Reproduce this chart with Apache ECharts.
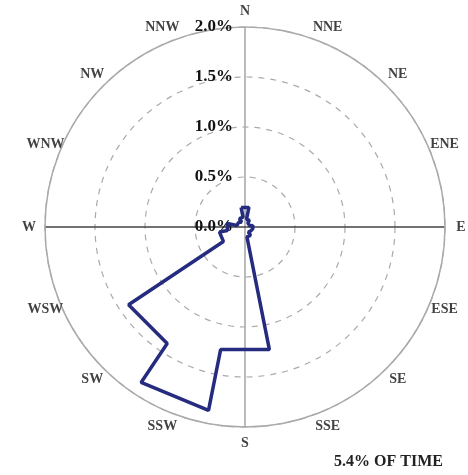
<!DOCTYPE html>
<html>
<head>
<meta charset="utf-8">
<script src="https://cdn.jsdelivr.net/npm/echarts@6/dist/echarts.min.js"></script>
<style>html,body{margin:0;padding:0;background:#fff;}#c{width:468px;height:475px;}</style>
</head>
<body>
<div id="c"></div>
<script>
const directions = ['N','NNE','NE','ENE','E','ESE','SE','SSE','S','SSW','SW','WSW','W','WNW','NW','NNW'];
const frequencies = [0.20, 0.08, 0.05, 0.05, 0.08, 0.07, 0.06, 0.10, 1.25, 1.87, 1.40, 0.26, 0.18, 0.08, 0.06, 0.10];
const radiusTicks = [0, 0.5, 1.0, 1.5, 2.0];
const footnote = '5.4% OF TIME';

const step = 360 / directions.length;
const half = step / 2;
const outline = [];
directions.forEach((d, i) => {
  const a = i * step;
  const a0 = (a - half + 360) % 360;
  const a1 = a + half;
  outline.push([frequencies[i], a0]);
  outline.push([frequencies[i], a1]);
});
outline.push(outline[0]);

const labelR = 2.16;
const labelPts = directions.map((d, i) => ({ value: [labelR, i * step], name: d }));

const serif = '"Liberation Serif", "DejaVu Serif", serif';
const chart = echarts.init(document.getElementById('c'));
chart.setOption({
  backgroundColor: '#fff',
  animation: false,
  title: {
    text: footnote, right: 20, top: 449,
    textStyle: { fontFamily: serif, fontWeight: 'bold', fontSize: 16, color: '#222' }
  },
  polar: { center: [245, 227], radius: [0, 200] },
  angleAxis: {
    type: 'value', min: 0, max: 360, interval: 90, startAngle: 90, clockwise: true,
    axisLine: { show: true, lineStyle: { color: '#aaa', width: 1.5 } },
    axisTick: { show: false },
    axisLabel: { show: false },
    splitLine: { show: true, lineStyle: { color: ['#aaa', '#444'], width: 1.6 } }
  },
  radiusAxis: {
    type: 'value', min: radiusTicks[0], max: radiusTicks[radiusTicks.length - 1], interval: 0.5,
    axisLine: { show: false },
    axisTick: { show: false },
    axisLabel: {
      show: true, margin: 12, formatter: v => v.toFixed(1) + '%',
      fontFamily: serif, fontWeight: 'bold', fontSize: 17, color: '#111'
    },
    splitLine: { show: true, lineStyle: { color: '#aaa', type: [6, 6], width: 1.2 } }
  },
  series: [
    {
      type: 'line', coordinateSystem: 'polar', data: outline,
      symbol: 'none', lineStyle: { color: '#252b7e', width: 3.5 }, z: 5
    },
    {
      type: 'scatter', coordinateSystem: 'polar', data: labelPts, clip: false,
      symbolSize: 1, itemStyle: { color: 'transparent' },
      label: {
        show: true, position: 'inside', formatter: p => p.name,
        fontFamily: serif, fontWeight: 'bold', fontSize: 14, color: '#111'
      },
      z: 6
    }
  ]
});
</script>
</body>
</html>
